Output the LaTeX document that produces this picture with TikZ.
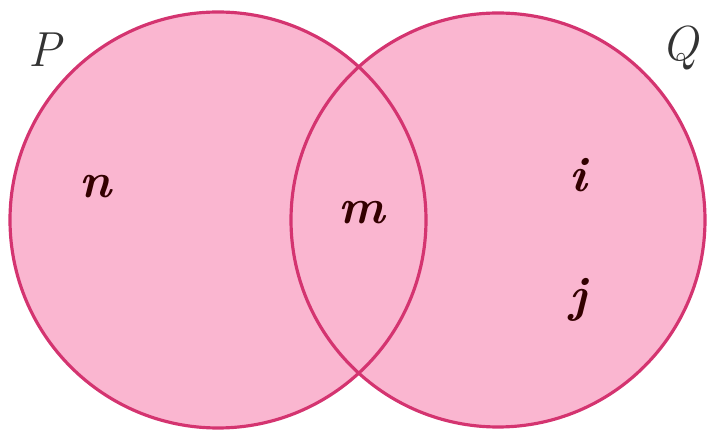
\documentclass[tikz,border=0pt]{standalone}
\usepackage{xcolor}
\usepackage{tikz}
\usetikzlibrary{positioning}

\definecolor{setpink}{RGB}{250,182,208}
\definecolor{setedge}{RGB}{212,52,112}

\begin{document}
\begin{tikzpicture}[
  setlabel/.style={font=\fontsize{14}{16}\selectfont\itshape, text=black!80},
  elemlabel/.style={font=\fontsize{14}{16}\selectfont\bfseries\itshape, text=black!80!red}]
\useasboundingbox (0,0) rectangle (7.07,4.36);

% Sets
\fill[setpink] (2.18,2.16) circle (2.08);
\fill[setpink] (4.98,2.16) circle (2.07);
\draw[setedge, line width=0.9pt] (2.18,2.16) circle (2.08);
\draw[setedge, line width=0.9pt] (4.98,2.16) circle (2.07);

% Set names
\node[setlabel] (P) at (0.45,3.86) {P};
\node[setlabel] (Q) at (6.80,3.88) {Q};

% Elements
\node[elemlabel] (n) at (0.95,2.49) {n};
\node[elemlabel] (m) at (3.62,2.23) {m};
\node[elemlabel] (i) at (5.78,2.61) {i};
\node[elemlabel] (j) at (5.78,1.36) {j};

\end{tikzpicture}
\end{document}
